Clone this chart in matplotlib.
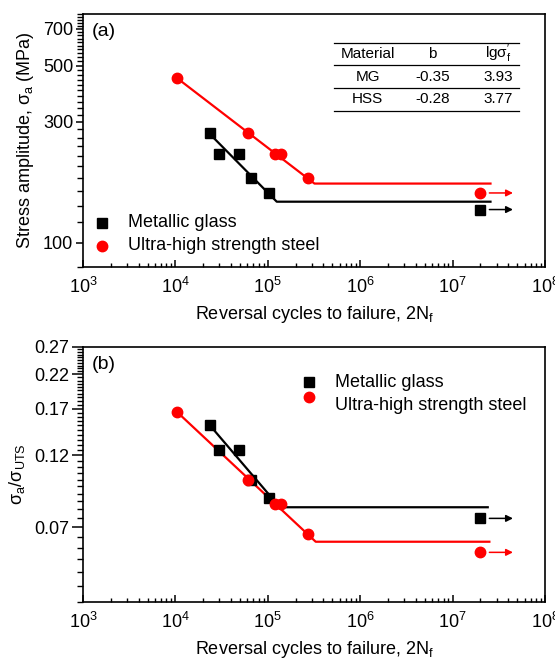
import matplotlib
matplotlib.use("Agg")
import matplotlib.pyplot as plt
from matplotlib.ticker import LogLocator, LogFormatterMathtext, NullFormatter, FixedLocator, FixedFormatter
import numpy as np

plt.rcParams['font.family'] = ['Liberation Sans', 'DejaVu Sans']
plt.rcParams['mathtext.fontset'] = 'custom'
plt.rcParams['mathtext.rm'] = 'Liberation Sans'
plt.rcParams['mathtext.it'] = 'Liberation Sans:italic'
plt.rcParams['mathtext.bf'] = 'Liberation Sans:bold'

# ---- data ----
# (a) stress amplitude (MPa) vs reversals 2Nf
mg_n = [2.37e4, 2.98e4, 4.87e4, 6.53e4, 1.02e5]
mg_sa = [270, 224, 224, 180, 157]
hss_n = [1.03e4, 6.15e4, 1.2e5, 1.38e5, 2.74e5]
hss_sa = [448, 270, 224, 224, 180]
runout_n = 2.0e7
mg_runout_sa = 135
hss_runout_sa = 157
arrow_n = [2.5e7, 4.5e7]

mg_fit_n = [2.37e4, 1.25e5, 2.57e7]
mg_fit_sa = [268, 145, 145]
hss_fit_n = [1.03e4, 3.2e5, 2.57e7]
hss_fit_sa = [448, 171, 171]

# (b) normalised stress amplitude sigma_a / sigma_UTS
mg_ratio = [0.150, 0.125, 0.125, 0.100, 0.087]
hss_ratio = [0.1665, 0.100, 0.083, 0.083, 0.0665]
mg_runout_ratio = 0.0748
hss_runout_ratio = 0.058

mg_fit_ratio_n = [2.37e4, 1.35e5, 2.4e7]
mg_fit_ratio = [0.150, 0.0813, 0.0813]
hss_fit_ratio_n = [1.03e4, 3.3e5, 2.5e7]
hss_fit_ratio = [0.1665, 0.0628, 0.0628]

# tick values
sa_ticks = [100, 300, 500, 700]
sa_minor = list(range(80, 801, 20))
ratio_ticks = [0.07, 0.12, 0.17, 0.22, 0.27]
ratio_minor = [round(0.04 + 0.005 * i, 3) for i in range(47)]

# Basquin parameters table
table_cols = ['Material', 'b', r'lg$\mathrm{\sigma_f^{\prime}}$']
table_rows = [['MG', '-0.35', '3.93'], ['HSS', '-0.28', '3.77']]

labels = ['Metallic glass', 'Ultra-high strength steel']
RED = '#ff0000'
FS = 13

fig = plt.figure(figsize=(5.55, 6.61), dpi=100)
ax1 = fig.add_axes([0.1495, 0.596, 0.8325, 0.3828])
ax2 = fig.add_axes([0.1495, 0.0893, 0.8325, 0.3858])


def style_axes(ax, ylim, major, minor, ymajor_len):
    ax.set_xscale('log')
    ax.set_yscale('log')
    ax.set_xlim(1e3, 1e8)
    ax.set_ylim(*ylim)
    ax.xaxis.set_major_locator(LogLocator(base=10, numticks=10))
    ax.xaxis.set_major_formatter(LogFormatterMathtext())
    ax.xaxis.set_minor_locator(LogLocator(base=10, subs=np.arange(2, 10), numticks=20))
    ax.xaxis.set_minor_formatter(NullFormatter())
    ax.yaxis.set_major_locator(FixedLocator(major))
    ax.yaxis.set_major_formatter(FixedFormatter(['%g' % v for v in major]))
    ax.yaxis.set_minor_locator(FixedLocator(minor))
    ax.yaxis.set_minor_formatter(NullFormatter())
    for s in ax.spines.values():
        s.set_linewidth(1.2)
    ax.tick_params(axis='x', which='major', direction='in', labelsize=FS,
                   width=1.1, length=5, pad=7, top=False)
    ax.tick_params(axis='x', which='minor', direction='in', width=1.0, length=3, top=False)
    ax.tick_params(axis='y', which='major', direction='out', labelsize=FS,
                   width=1.1, length=ymajor_len, pad=2, right=False)
    ax.tick_params(axis='y', which='minor', direction='out', width=1.0,
                   length=4, color='black', right=False)
    ax.set_xlabel(r'Reversal cycles to failure, 2N$_\mathrm{f}$', fontsize=FS, labelpad=5)


# ---------------- panel (a) ----------------
style_axes(ax1, (80, 800), sa_ticks, sa_minor, 5)
ax1.plot(mg_fit_n, mg_fit_sa, color='black', lw=1.6)
ax1.plot(hss_fit_n, hss_fit_sa, color=RED, lw=1.6)
ax1.plot(mg_n, mg_sa, 's', color='black', ms=6.5)
ax1.plot(hss_n, hss_sa, 'o', color=RED, ms=7.5)
ax1.plot([runout_n], [mg_runout_sa], 's', color='black', ms=6.5)
ax1.plot([runout_n], [hss_runout_sa], 'o', color=RED, ms=7.5)
for yv, c in [(mg_runout_sa, 'black'), (hss_runout_sa, RED)]:
    ax1.annotate('', xy=(arrow_n[1], yv), xytext=(arrow_n[0], yv),
                 arrowprops=dict(arrowstyle='-|>', color=c, lw=1.1,
                                 mutation_scale=10, shrinkA=0, shrinkB=0))
ax1.set_ylabel(r'Stress amplitude, $\mathrm{\sigma_a}$ (MPa)', fontsize=FS, labelpad=5)
ax1.text(0.02, 0.93, '(a)', transform=ax1.transAxes, fontsize=14, va='center')

# legend (a)
ax1.plot([0.041], [0.175], 's', color='black', ms=6.5, transform=ax1.transAxes)
ax1.plot([0.041], [0.084], 'o', color=RED, ms=7.5, transform=ax1.transAxes)
ax1.text(0.097, 0.175, labels[0], transform=ax1.transAxes, fontsize=FS, va='center')
ax1.text(0.097, 0.087, labels[1], transform=ax1.transAxes, fontsize=FS, va='center')

# table
tx0, tx1 = 0.543, 0.944
line_y = [0.887, 0.798, 0.708, 0.617]
col_x = [0.616, 0.756, 0.898]
for ly in line_y:
    ax1.plot([tx0, tx1], [ly, ly], color='black', lw=0.9, transform=ax1.transAxes)
row_y = [(line_y[i] + line_y[i + 1]) / 2 for i in range(3)]
for cx, t in zip(col_x, table_cols):
    ax1.text(cx, row_y[0], t, transform=ax1.transAxes, fontsize=11, ha='center', va='center')
for r, ry in zip(table_rows, row_y[1:]):
    for cx, t in zip(col_x, r):
        ax1.text(cx, ry, t, transform=ax1.transAxes, fontsize=11, ha='center', va='center')

# ---------------- panel (b) ----------------
style_axes(ax2, (0.04, 0.27), ratio_ticks, ratio_minor, 8)
ax2.plot(mg_fit_ratio_n, mg_fit_ratio, color='black', lw=1.6)
ax2.plot(hss_fit_ratio_n, hss_fit_ratio, color=RED, lw=1.6)
ax2.plot(mg_n, mg_ratio, 's', color='black', ms=6.5)
ax2.plot(hss_n, hss_ratio, 'o', color=RED, ms=7.5)
ax2.plot([runout_n], [mg_runout_ratio], 's', color='black', ms=6.5)
ax2.plot([runout_n], [hss_runout_ratio], 'o', color=RED, ms=7.5)
for yv, c in [(mg_runout_ratio, 'black'), (hss_runout_ratio, RED)]:
    ax2.annotate('', xy=(arrow_n[1], yv), xytext=(arrow_n[0], yv),
                 arrowprops=dict(arrowstyle='-|>', color=c, lw=1.1,
                                 mutation_scale=10, shrinkA=0, shrinkB=0))
ax2.set_ylabel(r'$\mathrm{\sigma_a/\sigma_{UTS}}$', fontsize=FS, labelpad=5)
ax2.text(0.02, 0.93, '(b)', transform=ax2.transAxes, fontsize=14, va='center')

# legend (b)
ax2.plot([0.489], [0.864], 's', color='black', ms=6.5, transform=ax2.transAxes)
ax2.plot([0.489], [0.805], 'o', color=RED, ms=7.5, transform=ax2.transAxes)
ax2.text(0.546, 0.86, labels[0], transform=ax2.transAxes, fontsize=FS, va='center')
ax2.text(0.546, 0.77, labels[1], transform=ax2.transAxes, fontsize=FS, va='center')

fig.savefig('out.png', dpi=100)
